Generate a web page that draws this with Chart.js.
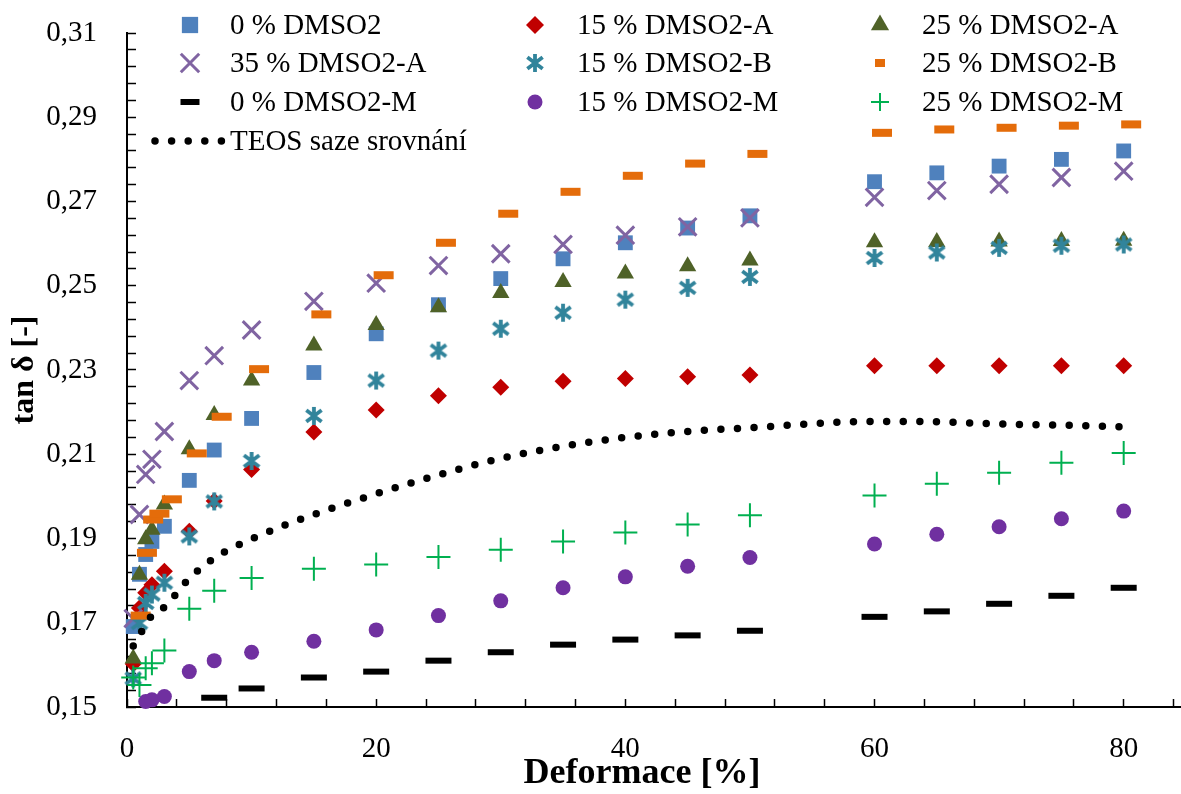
<!DOCTYPE html>
<html>
<head>
<meta charset="utf-8">
<script src="https://cdn.jsdelivr.net/npm/chart.js@4.4.1/dist/chart.umd.min.js"></script>
<style>
  html, body { margin: 0; padding: 0; background: #fff; }
  #wrap { width: 1181px; height: 794px; }
</style>
</head>
<body>
<div id="wrap"><canvas id="tanChart" width="1181" height="794"></canvas></div>
<script>
// deformation steps [%]
const strain = [0.5, 1, 1.5, 2, 3, 5, 7, 10, 15, 20, 25, 30, 35, 40, 45, 50, 60, 65, 70, 75, 80];
// the 25 % B sample was measured at slightly shifted steps
const strainB25 = [1.1, 1.6, 2.1, 2.6, 3.6, 5.6, 7.6, 10.6, 15.6, 20.6, 25.6, 30.6, 35.6, 40.6, 45.6, 50.6, 60.6, 65.6, 70.6, 75.6, 80.6];

// tan delta, null = below axis range
const dmso0    = [0.1691, 0.1815, 0.1862, 0.1893, 0.1929, 0.2038, 0.2110, 0.2185, 0.2294, 0.2386, 0.2455, 0.2517, 0.2564, 0.2602, 0.2637, 0.2666, 0.2747, 0.2768, 0.2784, 0.2800, 0.2820];
const dmso15A  = [0.1602, 0.1735, 0.1771, 0.1790, 0.1822, 0.1917, 0.1989, 0.2064, 0.2153, 0.2205, 0.2239, 0.2259, 0.2273, 0.2280, 0.2284, 0.2288, 0.2310, 0.2310, 0.2310, 0.2310, 0.2310];
const dmso25A  = [0.1615, 0.1814, 0.1898, 0.1921, 0.1981, 0.2112, 0.2193, 0.2275, 0.2358, 0.2407, 0.2449, 0.2483, 0.2509, 0.2529, 0.2546, 0.2560, 0.2603, 0.2604, 0.2605, 0.2606, 0.2607];
const dmso35A  = [0.1710, 0.1957, 0.2052, 0.2088, 0.2154, 0.2275, 0.2334, 0.2395, 0.2463, 0.2506, 0.2548, 0.2576, 0.2598, 0.2620, 0.2640, 0.2661, 0.2710, 0.2726, 0.2741, 0.2757, 0.2772];
const dmso15B  = [0.1568, 0.1699, 0.1747, 0.1767, 0.1795, 0.1905, 0.1988, 0.2084, 0.2191, 0.2275, 0.2346, 0.2398, 0.2436, 0.2467, 0.2495, 0.2521, 0.2566, 0.2579, 0.2590, 0.2595, 0.2598];
const dmso25B  = [0.1717, 0.1866, 0.1945, 0.1959, 0.1993, 0.2102, 0.2189, 0.2302, 0.2432, 0.2525, 0.2602, 0.2671, 0.2723, 0.2761, 0.2790, 0.2813, 0.2863, 0.2871, 0.2875, 0.2880, 0.2883];
const dmso0M   = [null, null, null, null, null, null, 0.1522, 0.1544, 0.1570, 0.1584, 0.1610, 0.1630, 0.1648, 0.1660, 0.1670, 0.1681, 0.1714, 0.1727, 0.1745, 0.1764, 0.1783];
const dmso15M  = [null, null, 0.1513, 0.1517, 0.1525, 0.1584, 0.1610, 0.1630, 0.1656, 0.1683, 0.1717, 0.1752, 0.1783, 0.1809, 0.1834, 0.1855, 0.1887, 0.1910, 0.1928, 0.1947, 0.1965];
const dmso25M  = [0.1570, 0.1552, 0.1592, 0.1604, 0.1634, 0.1733, 0.1776, 0.1806, 0.1828, 0.1838, 0.1856, 0.1873, 0.1893, 0.1914, 0.1933, 0.1955, 0.2002, 0.2030, 0.2056, 0.2080, 0.2103];
const teosRef  = [0.1645, 0.1670, 0.1695, 0.1717, 0.1737, 0.1805, 0.1853, 0.1899, 0.1957, 0.2006, 0.2051, 0.2090, 0.2119, 0.2140, 0.2154, 0.2163, 0.2178, 0.2177, 0.2172, 0.2169, 0.2165];

const FONT = "'Liberation Serif', 'Times New Roman', serif";

function toPoints(xs, ys) {
    return xs.map((x, i) => ({ x: x, y: ys[i] })).filter(p => p.y !== null);
}

// Excel-like asterisk: vertical bar plus an X
function asterisk(color, size, lw) {
    const c = document.createElement('canvas');
    c.width = size;
    c.height = size;
    const g = c.getContext('2d');
    const m = size / 2, r = size / 2 - 1, d = r * 0.85;
    g.strokeStyle = color;
    g.lineWidth = lw;
    g.beginPath();
    g.moveTo(m, m - r); g.lineTo(m, m + r);
    g.moveTo(m - d, m - d * 0.75); g.lineTo(m + d, m + d * 0.75);
    g.moveTo(m + d, m - d * 0.75); g.lineTo(m - d, m + d * 0.75);
    g.stroke();
    return c;
}

function markerSet(label, xs, ys, style, color, radius, bw, legendRadius) {
    return {
        label: label,
        data: toPoints(xs, ys),
        pointStyle: style,
        pointRadius: radius,
        pointHoverRadius: radius,
        pointBackgroundColor: color,
        pointBorderColor: color,
        pointBorderWidth: bw,
        legendRadius: legendRadius || radius,
        clip: false
    };
}

const datasets = [
    markerSet('0 % DMSO2', strain, dmso0, 'rect', '#4F81BD', 10.5, 0, 11.5),
    markerSet('15 % DMSO2-A', strain, dmso15A, 'rectRot', '#C00000', 8.5, 0, 9),
    markerSet('25 % DMSO2-A', strain, dmso25A, 'triangle', '#4F6228', 10, 0, 10.5),
    markerSet('35 % DMSO2-A', strain, dmso35A, 'crossRot', '#8064A2', 12.5, 3, 13),
    markerSet('15 % DMSO2-B', strain, dmso15B, asterisk('#31849B', 20, 3.8), '#31849B', 10, 0),
    markerSet('25 % DMSO2-B', strainB25, dmso25B, 'line', '#E46C0A', 10, 8, 5),
    markerSet('0 % DMSO2-M', strain, dmso0M, 'line', '#000000', 13, 6, 9.5),
    markerSet('15 % DMSO2-M', strain, dmso15M, 'circle', '#7030A0', 7.5, 0),
    markerSet('25 % DMSO2-M', strain, dmso25M, 'cross', '#00B050', 12, 2, 9),
    {
        label: 'TEOS saze srovnání',
        data: toPoints(strain, teosRef),
        showLine: true,
        borderColor: '#000000',
        borderWidth: 7.5,
        borderDash: [0, 16.6],
        borderCapStyle: 'round',
        cubicInterpolationMode: 'monotone',
        pointRadius: 0,
        clip: false
    }
];
// later series are painted over earlier ones
datasets.forEach((ds, i) => { ds.order = datasets.length - i; });

// three-column legend inside the plot area, plus the x axis caption
const gridLegend = {
    id: 'gridLegend',
    afterDraw(chart) {
        const ctx = chart.ctx;
        const markerX = [190, 535, 880];
        const textX = [230, 577, 922];
        const rowY = [25, 63, 102, 141];
        chart.data.datasets.forEach((ds, i) => {
            const col = i % 3, row = Math.floor(i / 3);
            const y = rowY[row];
            ctx.save();
            if (ds.showLine) {
                ctx.strokeStyle = ds.borderColor;
                ctx.lineWidth = ds.borderWidth;
                ctx.lineCap = 'round';
                ctx.setLineDash(ds.borderDash);
                ctx.beginPath();
                ctx.moveTo(155, y);
                ctx.lineTo(223, y);
                ctx.stroke();
            } else {
                ctx.fillStyle = ds.pointBackgroundColor;
                ctx.strokeStyle = ds.pointBorderColor;
                ctx.lineWidth = ds.pointBorderWidth;
                Chart.helpers.drawPoint(ctx, {
                    pointStyle: ds.pointStyle,
                    radius: ds.legendRadius,
                    borderWidth: ds.pointBorderWidth,
                    rotation: 0
                }, markerX[col], y);
            }
            ctx.restore();
            ctx.save();
            ctx.fillStyle = '#000';
            ctx.font = '29px ' + FONT;
            ctx.textAlign = 'left';
            ctx.textBaseline = 'middle';
            ctx.fillText(ds.label, textX[col], y + 1);
            ctx.restore();
        });

        ctx.save();
        ctx.fillStyle = '#000';
        ctx.font = 'bold 36px ' + FONT;
        ctx.textAlign = 'center';
        ctx.textBaseline = 'middle';
        ctx.fillText('Deformace [%]', 642, 774);
        ctx.restore();
    }
};

// fixed axis boxes, no extra room for the outer tick labels
function fixBox(size) {
    return s => {
        if (s.isHorizontal()) s.height = size; else s.width = size;
        s.paddingTop = 0;
        s.paddingBottom = 0;
        s.paddingLeft = 0;
        s.paddingRight = 0;
    };
}

new Chart(document.getElementById('tanChart'), {
    type: 'scatter',
    data: { datasets: datasets },
    options: {
        responsive: false,
        animation: false,
        layout: { autoPadding: false, padding: { top: 33, right: 0, left: 0, bottom: 0 } },
        plugins: {
            legend: { display: false },
            tooltip: { enabled: false }
        },
        scales: {
            x: {
                type: 'linear',
                min: 0,
                max: 84.6,
                afterFit: fixBox(87),
                border: { display: true, color: '#000', width: 2 },
                grid: { drawOnChartArea: false, drawTicks: true, tickLength: -8, tickColor: '#000', tickWidth: 1.5 },
                ticks: {
                    stepSize: 4,
                    maxTicksLimit: 100,
                    includeBounds: false,
                    autoSkip: false,
                    maxRotation: 0,
                    padding: 33,
                    color: '#000',
                    font: { family: FONT, size: 29 },
                    callback: v => (Math.round(v) % 20 === 0 ? String(Math.round(v)) : '')
                }
            },
            y: {
                type: 'linear',
                min: 0.15,
                max: 0.31,
                afterFit: fixBox(127),
                border: { display: true, color: '#000', width: 2 },
                grid: { drawOnChartArea: false, drawTicks: true, tickLength: -9, tickColor: '#000', tickWidth: 1.5 },
                ticks: {
                    stepSize: 0.004,
                    maxTicksLimit: 100,
                    autoSkip: false,
                    padding: 39,
                    color: '#000',
                    font: { family: FONT, size: 29 },
                    callback: v => {
                        const k = Math.round((v - 0.15) / 0.004);
                        return k % 5 === 0 ? v.toFixed(2).replace('.', ',') : '';
                    }
                },
                title: {
                    display: true,
                    text: 'tan δ [-]',
                    color: '#000',
                    font: { family: FONT, size: 32, weight: 'bold' },
                    padding: { top: 6, bottom: 0 }
                }
            }
        }
    },
    plugins: [gridLegend]
});
</script>
</body>
</html>
